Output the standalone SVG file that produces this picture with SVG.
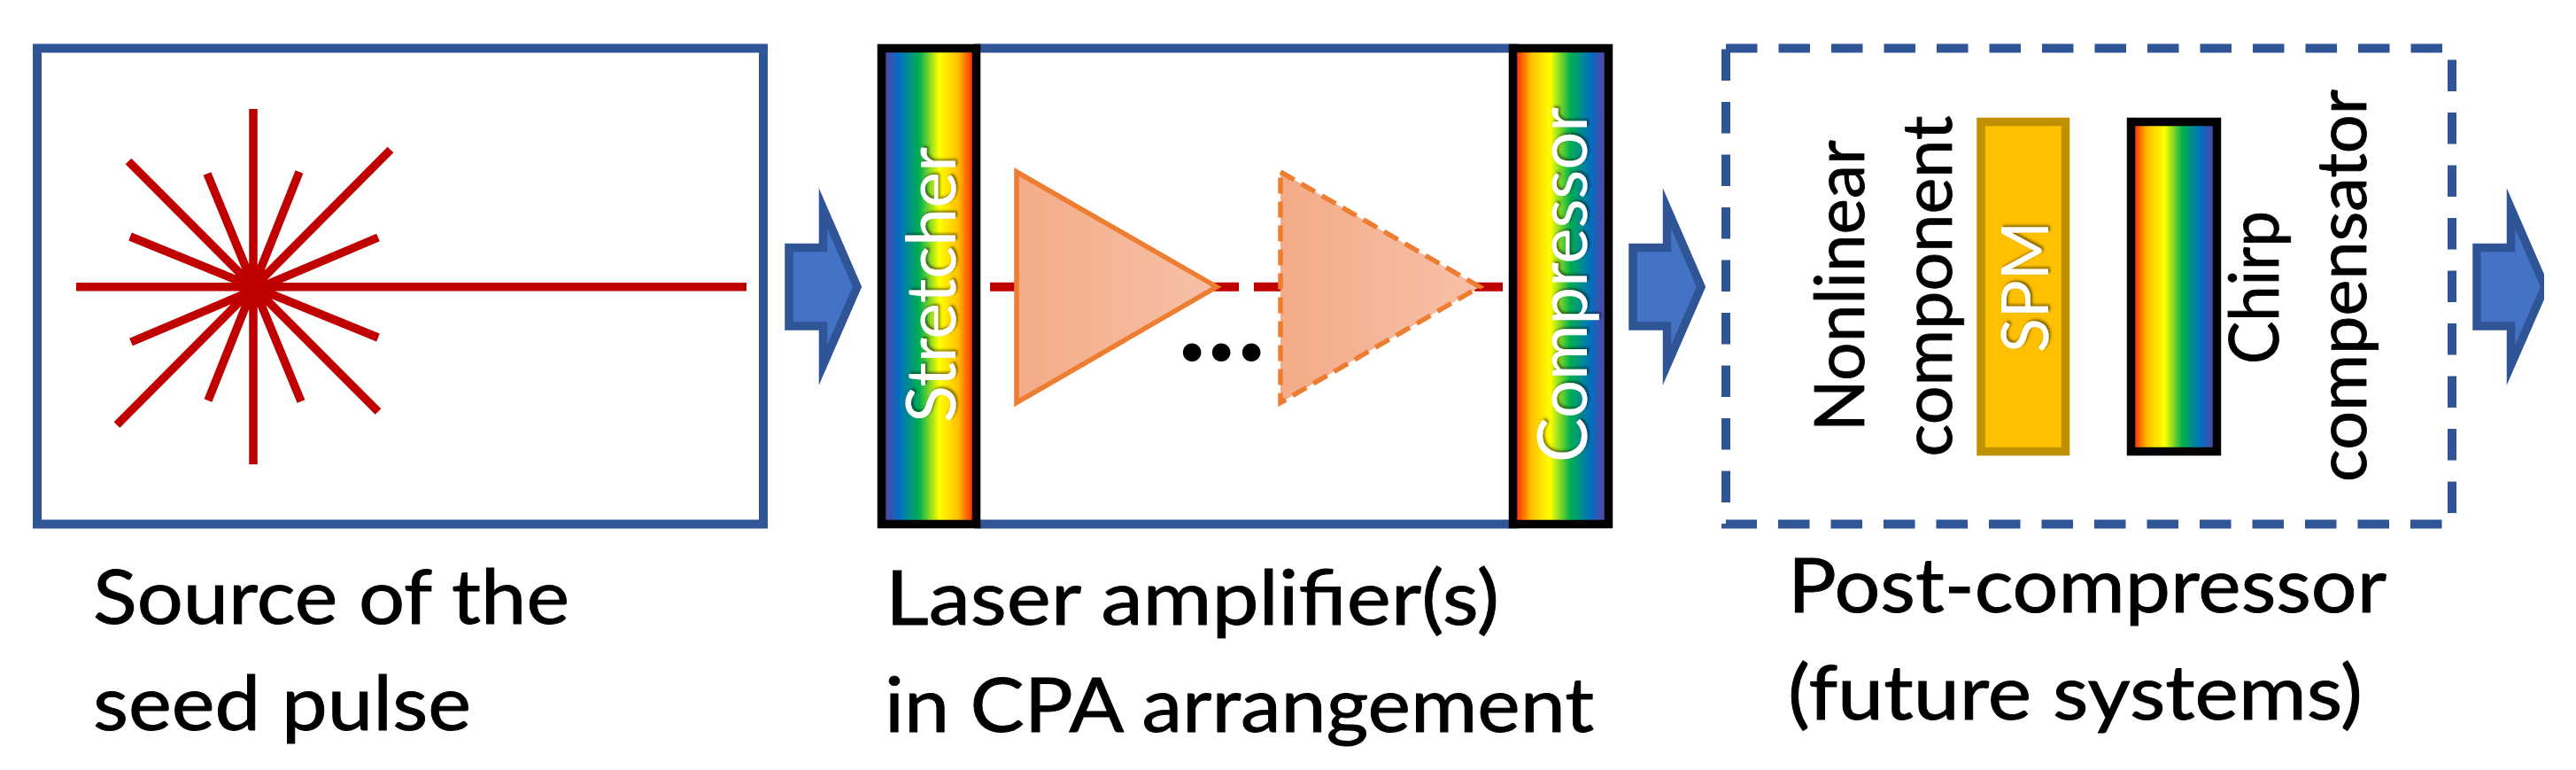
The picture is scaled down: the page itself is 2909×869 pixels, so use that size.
<svg xmlns="http://www.w3.org/2000/svg" width="2909" height="869" viewBox="0 0 2909 869">
<style>
.box{fill:none;stroke:#2F5597;stroke-width:10}
.ray{stroke:#C00000;stroke-width:9.5;fill:none}
.beam{stroke:#C00000;stroke-width:10;fill:none}
.arrow{fill:#4472C4;stroke:#2F5597;stroke-width:9.5;stroke-miterlimit:20}
.tri{fill:url(#tg);stroke:#ED7D31;stroke-width:5.5;stroke-miterlimit:20}
.black{stroke:#000;stroke-width:9.5}
text{font-family:Lato,"Open Sans","Liberation Sans",sans-serif;fill:#000}
.lab{font-size:86px;stroke:#000;stroke-width:.9}
.vert{font-size:78px;stroke:#000;stroke-width:.8}
.wht{fill:#fff;stroke:none;filter:url(#sh)}
</style>
<defs>
<linearGradient id="rb"><stop offset=".042" stop-color="#5245A5"/><stop offset=".19" stop-color="#0070C0"/><stop offset=".40" stop-color="#00B050"/><stop offset=".61" stop-color="#FFFF00"/><stop offset=".81" stop-color="#FFC000"/><stop offset=".958" stop-color="#FF3000"/></linearGradient>
<linearGradient id="br"><stop offset=".042" stop-color="#FF3000"/><stop offset=".19" stop-color="#FFC000"/><stop offset=".39" stop-color="#FFFF00"/><stop offset=".60" stop-color="#00B050"/><stop offset=".81" stop-color="#0070C0"/><stop offset=".958" stop-color="#5245A5"/></linearGradient>
<linearGradient id="tg"><stop offset="0" stop-color="#F4AB87"/><stop offset="1" stop-color="#F6C1A8"/></linearGradient>
<filter id="sh" x="-10%" y="-10%" width="120%" height="120%"><feDropShadow dx="2" dy="2" stdDeviation="1.5" flood-color="#000" flood-opacity=".5"/></filter>
<clipPath id="edge"><rect x="0" y="0" width="2873" height="869"/></clipPath>
</defs>
<g id="source">
<rect class="box" x="42" y="54.5" width="820" height="537"/>
<g id="burst">
<path class="ray" d="M286 123V524M86 323.7H843M145 182L427 464.5M441 169L132 479.5M234 196L340 453M338 194L235 452M147 267L427 381M427 268L148 386"/>
<circle cx="286" cy="323.7" r="16" fill="#C00000"/>
</g>
<text class="lab" x="105" y="704" textLength="538" lengthAdjust="spacingAndGlyphs">Source of the</text>
<text class="lab" x="105" y="824" textLength="427" lengthAdjust="spacingAndGlyphs">seed pulse</text>
</g>
<g id="amplifier">
<path class="box" d="M1100 54.5H1715M1100 591.5H1715"/>
<path class="beam" d="M1118 323.7H1150M1370 323.7H1399M1416 323.7H1448M1665 323.7H1697"/>
<polygon class="tri" points="1148,194 1374,323.7 1148,454.5"/>
<polygon class="tri" stroke-dasharray="18 9" points="1446,194 1671,323.7 1446,454.5"/>
<text x="1330 1363 1397" y="407" font-size="136" font-weight="700">...</text>
<g id="stretcher">
<rect class="black" x="995.5" y="54.5" width="107" height="537" fill="url(#rb)"/>
<text class="vert wht" transform="translate(1079 477) rotate(-90)" textLength="311" lengthAdjust="spacingAndGlyphs">Stretcher</text>
</g>
<g id="compressor">
<rect class="black" x="1708.5" y="54.5" width="108" height="537" fill="url(#br)"/>
<text class="vert wht" transform="translate(1792 522) rotate(-90)" textLength="401" lengthAdjust="spacingAndGlyphs">Compressor</text>
</g>
<text class="lab" x="1000" y="705" textLength="693" lengthAdjust="spacingAndGlyphs">Laser amplifier(s)</text>
<text class="lab" x="999" y="826" textLength="801" lengthAdjust="spacingAndGlyphs">in CPA arrangement</text>
</g>
<g id="postcompressor">
<path class="box" stroke-dasharray="35.5 24" d="M1949 54.5H2769V591.5H1949Z"/>
<text class="vert" transform="translate(2104.5 487) rotate(-90)" textLength="329" lengthAdjust="spacingAndGlyphs">Nonlinear</text>
<text class="vert" transform="translate(2204 515.5) rotate(-90)" textLength="385" lengthAdjust="spacingAndGlyphs">component</text>
<g id="spm">
<rect x="2237" y="137.5" width="95.5" height="372" fill="#FFC000" stroke="#BF9000" stroke-width="9.5"/>
<text class="wht" font-size="74" transform="translate(2313 398) rotate(-90)" textLength="148" lengthAdjust="spacingAndGlyphs">SPM</text>
</g>
<g id="chirp">
<rect class="black" x="2406.5" y="137.5" width="97" height="372" fill="url(#br)"/>
</g>
<text class="vert" transform="translate(2572.5 411) rotate(-90)" textLength="173" lengthAdjust="spacingAndGlyphs">Chirp</text>
<text class="vert" transform="translate(2672 544) rotate(-90)" textLength="443" lengthAdjust="spacingAndGlyphs">compensator</text>
<text class="lab" x="2019" y="691" textLength="676" lengthAdjust="spacingAndGlyphs">Post-compressor</text>
<text class="lab" x="2019" y="812" textLength="649" lengthAdjust="spacingAndGlyphs">(future systems)</text>
</g>
<g id="connectors">
<polygon id="a1" class="arrow" points="891,279.5 929.5,279.5 929.5,235 968,323.7 929.5,412 929.5,368 891,368"/>
<polygon id="a2" class="arrow" transform="translate(953 0)" points="891,279.5 929.5,279.5 929.5,235 968,323.7 929.5,412 929.5,368 891,368"/>
<g clip-path="url(#edge)"><polygon id="a3" class="arrow" transform="translate(1906 0)" points="891,279.5 929.5,279.5 929.5,235 968,323.7 929.5,412 929.5,368 891,368"/></g>
</g>
</svg>
